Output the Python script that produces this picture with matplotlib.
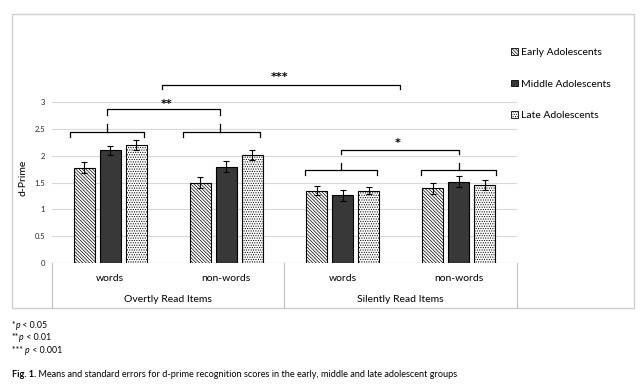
import numpy as np
import matplotlib.pyplot as plt
from matplotlib.patches import Rectangle
from matplotlib.lines import Line2D
from matplotlib.transforms import blended_transform_factory

plt.rcParams['font.family'] = ['Lato', 'DejaVu Sans']
plt.rcParams['hatch.linewidth'] = 0.5

categories = ['words', 'non-words', 'words', 'non-words']
groups = ['Overtly Read Items', 'Silently Read Items']
series = ['Early Adolescents', 'Middle Adolescents', 'Late Adolescents']

early = [1.78, 1.50, 1.35, 1.39]
middle = [2.10, 1.80, 1.26, 1.52]
late = [2.20, 2.01, 1.35, 1.46]
early_err = [0.11, 0.10, 0.08, 0.10]
middle_err = [0.08, 0.10, 0.10, 0.10]
late_err = [0.09, 0.09, 0.06, 0.09]

notes = ['*', '**', '*** ']
note_p = [' < 0.05', ' < 0.01', ' < 0.001']

fig = plt.figure(figsize=(6.4, 3.88), dpi=100)
ax = fig.add_axes([52/640, 125/388, 465/640, 223/388])

x = np.arange(len(categories))
w = 0.18
off = 0.224
styles = [dict(facecolor='white', hatch='\\' * 10),
          dict(facecolor='#383838'),
          dict(facecolor='white', hatch='.' * 7)]
ekw = dict(ecolor='black', lw=0.8, capsize=2, capthick=0.8)
for i, (vals, errs) in enumerate([(early, early_err), (middle, middle_err), (late, late_err)]):
    ax.bar(x + (i - 1) * off, vals, w, yerr=errs, edgecolor='black', linewidth=0.8,
           error_kw=ekw, zorder=3, label=series[i], **styles[i])

ax.set_xlim(-0.5, 3.5)
ax.set_ylim(0, 223/53.6)
ax.set_yticks(np.arange(0, 3.01, 0.5))
ax.set_yticklabels(['0', '0.5', '1', '1.5', '2', '2.5', '3'])
ax.tick_params(axis='y', length=0, labelsize=5.5, labelcolor='#262626', pad=5)
ax.set_xticks([])
ax.grid(axis='y', color='#d9d9d9', lw=0.8, zorder=0)
for s in ax.spines.values():
    s.set_visible(False)
ax.axhline(0, color='#bfbfbf', lw=0.8, zorder=2)
ax.set_ylabel('d-Prime', fontsize=7.5, color='black')
ax.yaxis.set_label_coords(-0.052, 0.38)

# category table under the axis
tr = blended_transform_factory(ax.transData, fig.transFigure)
for xi, c in zip(x, categories):
    ax.text(xi, 0.281, c, transform=tr, ha='center', va='center', fontsize=7.5, color='black')
for xi, g in zip([0.5, 2.5], groups):
    ax.text(xi, 0.229, g, transform=tr, ha='center', va='center', fontsize=7.5, color='black')
for xp in [52, 284, 517]:
    fig.add_artist(Line2D([xp/640, xp/640], [(388-263)/388, (388-308)/388],
                          transform=fig.transFigure, color='#bfbfbf', lw=0.8))

# outer border
fig.add_artist(Rectangle((12/640, 80/388), 622/640, 294/388, transform=fig.transFigure,
                         fill=False, edgecolor='#d0d0d0', lw=1))


def brace(x0, x1, y, drop, xm=None, rise=0):
    ax.plot([x0, x0, x1, x1], [y - drop, y, y, y - drop], color='black', lw=0.9,
            clip_on=False, solid_joinstyle='round', zorder=4)
    if xm is not None:
        ax.plot([xm, xm], [y, y + rise], color='black', lw=0.9, clip_on=False, zorder=4)


# group braces
brace(-0.345, 0.291, 2.45, 0.10, -0.027, 0.14)
brace(0.627, 1.289, 2.45, 0.10, 0.945, 0.14)
brace(1.676, 2.296, 1.735, 0.095, 1.986, 0.135)
brace(2.674, 3.319, 1.735, 0.095, 2.997, 0.135)
# comparison brackets
star = dict(ha='center', va='center', fontsize=8, fontweight='bold', family='DejaVu Sans')
brace(-0.027, 0.945, 2.87, 0.11)
ax.text(0.49, 2.96, '**', **star)
brace(1.986, 2.997, 2.11, 0.08)
ax.text(2.47, 2.23, '*', **star)
brace(0.446, 2.494, 3.32, 0.08)
ax.text(1.46, 3.47, '***', **star)

# legend
handles = [Rectangle((0, 0), 1, 1, edgecolor='black', linewidth=0.6, **st) for st in styles]
fig.legend(handles, series, loc='upper left', bbox_to_anchor=(511/640, (388-48)/388),
           frameon=False, handlelength=0.65, handleheight=0.65, handletextpad=0.3,
           labelspacing=2.15, fontsize=7.5, borderaxespad=0, borderpad=0,
           labelcolor='black')


def rich(xf, yf, parts, size):
    t = fig.text(xf, yf, parts[0][0], fontsize=size, va='bottom', ha='left', **parts[0][1])
    for s, kw in parts[1:]:
        t = ax.annotate(s, xy=(1, 0), xycoords=t, va='bottom', ha='left',
                        fontsize=size, annotation_clip=False, **kw)


for i in range(3):
    rich(12/640, (388-330 - i*12.5)/388,
         [(notes[i], {}), ('p', dict(style='italic')), (note_p[i], {})], 6.3)
rich(12/640, (388-379)/388,
     [('Fig. 1.', dict(fontweight='bold')),
      (' Means and standard errors for d-prime recognition scores in the early, middle and late adolescent groups', {})], 6.6)

fig.savefig('out.png', dpi=100)
